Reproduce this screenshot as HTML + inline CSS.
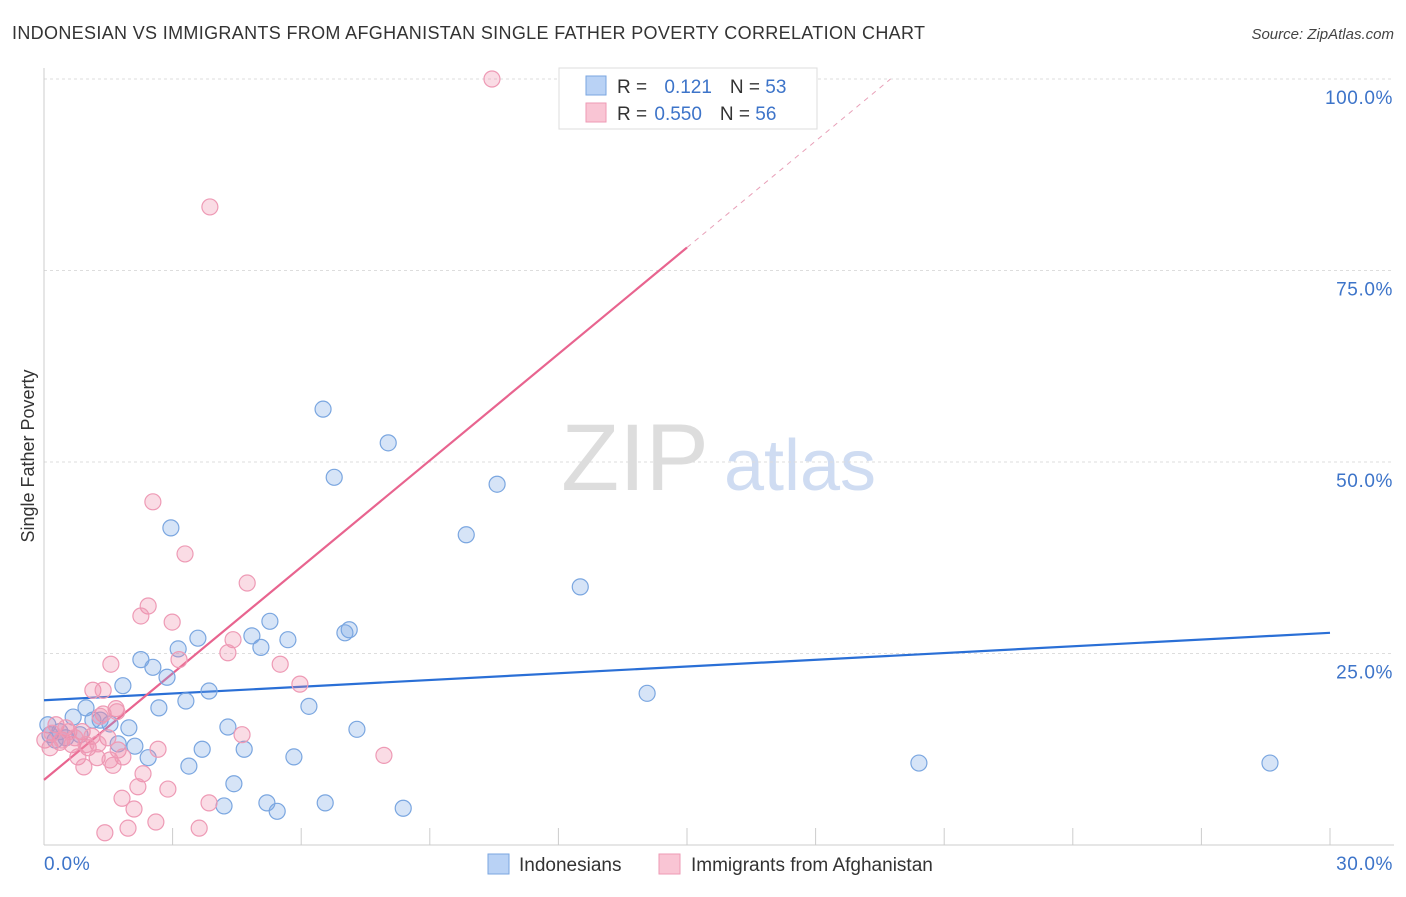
<!DOCTYPE html>
<html><head><meta charset="utf-8"><style>
body{margin:0;background:#fff;font-family:"Liberation Sans",sans-serif;}
svg text{font-family:"Liberation Sans",sans-serif;}
</style></head><body>
<svg id="chart" width="1406" height="892" viewBox="0 0 1406 892" xmlns="http://www.w3.org/2000/svg">
<text x="12" y="39" font-size="18" fill="#333" textLength="913" lengthAdjust="spacing">INDONESIAN VS IMMIGRANTS FROM AFGHANISTAN SINGLE FATHER POVERTY CORRELATION CHART</text>
<text x="1394" y="39" font-size="15" fill="#444" text-anchor="end" font-style="italic">Source: ZipAtlas.com</text>
<text transform="translate(34,456) rotate(-90)" font-size="18" fill="#333" text-anchor="middle">Single Father Poverty</text>
<g>
<text x="635" y="490" font-size="95" fill="#ddd" font-family="Liberation Serif" text-anchor="middle">ZIP</text>
<text x="800" y="490" font-size="72" fill="#cfdcf2" text-anchor="middle">atlas</text>
</g>
<g id="grid"></g>
<g id="axes"></g>
<g id="trend"></g>
<g id="pts"></g>
<g>
<rect x="559" y="68" width="258" height="61" fill="#fff" stroke="#ddd"/>
<rect x="586" y="76" width="20" height="19" fill="#b9d2f5" stroke="#7aa6e0"/>
<rect x="586" y="103" width="20" height="19" fill="#f9c5d4" stroke="#ee9ab5"/>
<text x="617" y="93" font-size="19" fill="#333">R = <tspan fill="#3d74c9" dx="12">0.121</tspan><tspan fill="#333" dx="18">N = </tspan><tspan fill="#3d74c9">53</tspan></text>
<text x="617" y="120" font-size="19" fill="#333">R = <tspan fill="#3d74c9" dx="2">0.550</tspan><tspan fill="#333" dx="18">N = </tspan><tspan fill="#3d74c9">56</tspan></text>
</g>
<g>
<rect x="488" y="854" width="21" height="20" fill="#b9d2f5" stroke="#7aa6e0"/>
<text x="519" y="871" font-size="19" fill="#333">Indonesians</text>
<rect x="659" y="854" width="21" height="20" fill="#f9c5d4" stroke="#ee9ab5"/>
<text x="691" y="871" font-size="19" fill="#333">Immigrants from Afghanistan</text>
</g>
</svg>
<script>
const yTicks=[25,50,75,100];
const yTickLabels=["25.0%","50.0%","75.0%","100.0%"];
const xTicks=[3,6,9,12,15,18,21,24,27,30];
const blueX=[6.51,8.03,6.77,10.57,2.96,9.85,12.51,5.27,7.12,7.02,3.59,4.85,5.69,5.06,3.13,2.26,2.54,2.87,1.84,3.85,14.07,3.31,6.18,2.68,0.98,0.68,1.14,1.54,1.98,4.29,7.30,0.09,0.37,0.84,0.26,1.73,2.12,3.69,4.67,5.83,2.43,3.38,20.41,28.60,4.43,4.20,5.20,6.56,5.44,8.38,0.14,0.51,1.31];
const blueY=[56.9,52.5,48.0,47.1,41.4,40.5,33.7,29.2,28.1,27.7,27.0,27.3,26.8,25.8,25.6,24.2,23.2,21.9,20.8,20.1,19.8,18.8,18.1,17.9,17.9,16.7,16.3,15.8,15.3,15.4,15.1,15.7,14.8,14.4,13.7,13.2,12.9,12.5,12.5,11.5,11.4,10.3,10.7,10.7,8.0,5.1,5.5,5.5,4.4,4.8,14.4,14.0,16.3];
const pinkX=[10.45,3.87,2.54,3.29,4.74,2.43,2.26,2.99,4.41,3.15,1.56,5.51,4.29,5.97,1.14,1.38,1.68,1.38,0.28,0.51,0.89,1.12,1.49,0.02,0.37,0.65,1.03,1.73,2.66,4.62,0.14,0.79,1.24,1.54,1.84,0.93,1.61,2.31,2.19,2.89,7.93,1.82,2.10,3.85,2.61,1.96,3.62,1.42,0.42,0.58,1.26,0.19,0.72,0.98,1.70,1.31];
const pinkY=[100,83.3,44.8,38.0,34.2,31.2,29.9,29.1,26.8,24.2,23.6,23.6,25.1,21.0,20.2,20.2,17.8,17.1,15.7,15.3,14.8,14.2,14.0,13.7,13.4,13.1,12.7,12.4,12.5,14.4,12.7,11.5,11.4,11.1,11.5,10.2,10.4,9.3,7.6,7.3,11.7,6.1,4.7,5.5,3.0,2.2,2.2,1.6,13.7,14.8,13.2,14.6,14.0,13.1,17.4,16.8];
const blueTrend=[18.9,27.7];
const pinkTrend=[8.5,147.5];
const pinkSolidEnd=15;
const sx=v=>44+v*1286/30, sy=v=>845-v*7.66;
const NS="http://www.w3.org/2000/svg";
function mk(p,t,a){const e=document.createElementNS(NS,t);for(const k in a)e.setAttribute(k,a[k]);p.appendChild(e);return e;}
const grid=document.getElementById('grid'),axes=document.getElementById('axes'),trend=document.getElementById('trend'),pts=document.getElementById('pts');
yTicks.forEach((v,i)=>{
 const l=mk(grid,'line',{x1:44,x2:1394,y1:sy(v),y2:sy(v),stroke:'#ddd','stroke-dasharray':'3,3'});
 
 
 const t=mk(grid,'text',{x:1393,y:sy(v)+25,'font-size':19,'letter-spacing':0.6,fill:'#3d74c9','text-anchor':'end'});t.textContent=yTickLabels[i];
 
 
});
const ax=mk(axes,'line',{x1:44,x2:44,y1:68,y2:845,stroke:'#ccc'});


const bx=mk(axes,'line',{x1:44,x2:1394,y1:845,y2:845,stroke:'#ccc'});


xTicks.forEach(v=>{const t=mk(axes,'line',{x1:sx(v),x2:sx(v),y1:828,y2:845,stroke:'#ccc'});
 
 });
const x0=mk(axes,'text',{x:44,y:870,'font-size':19,'letter-spacing':0.8,fill:'#3d74c9'});x0.textContent='0.0%';


const x1=mk(axes,'text',{x:1393,y:870,'font-size':19,'letter-spacing':0.6,fill:'#3d74c9','text-anchor':'end'});x1.textContent='30.0%';


function dot(x,y,f,s,n){const c=mk(pts,'circle',{cx:sx(x),cy:sy(y),r:8,fill:f,stroke:s,'stroke-width':1.2});
 
 }
blueX.forEach((x,i)=>dot(x,blueY[i],'rgba(120,165,230,0.3)','#7aa6e0','indonesian-point'));
pinkX.forEach((x,i)=>dot(x,pinkY[i],'rgba(240,140,170,0.3)','#ee9ab5','afghan-point'));
const bl=mk(trend,'line',{x1:sx(0),y1:sy(blueTrend[0]),x2:sx(30),y2:sy(blueTrend[1]),stroke:'#2a6fd6','stroke-width':2.2});


const pAt=x=>pinkTrend[0]+(pinkTrend[1]-pinkTrend[0])*x/30;
const pl=mk(trend,'line',{x1:sx(0),y1:sy(pinkTrend[0]),x2:sx(pinkSolidEnd),y2:sy(pAt(pinkSolidEnd)),stroke:'#e8648f','stroke-width':2.2});


const xEnd=(100-pinkTrend[0])*30/(pinkTrend[1]-pinkTrend[0]);
const pd=mk(trend,'line',{x1:sx(pinkSolidEnd),y1:sy(pAt(pinkSolidEnd)),x2:sx(xEnd),y2:sy(pAt(xEnd)),stroke:'#e8a0b8','stroke-width':1,'stroke-dasharray':'5,5'});


</script>
</body></html>
